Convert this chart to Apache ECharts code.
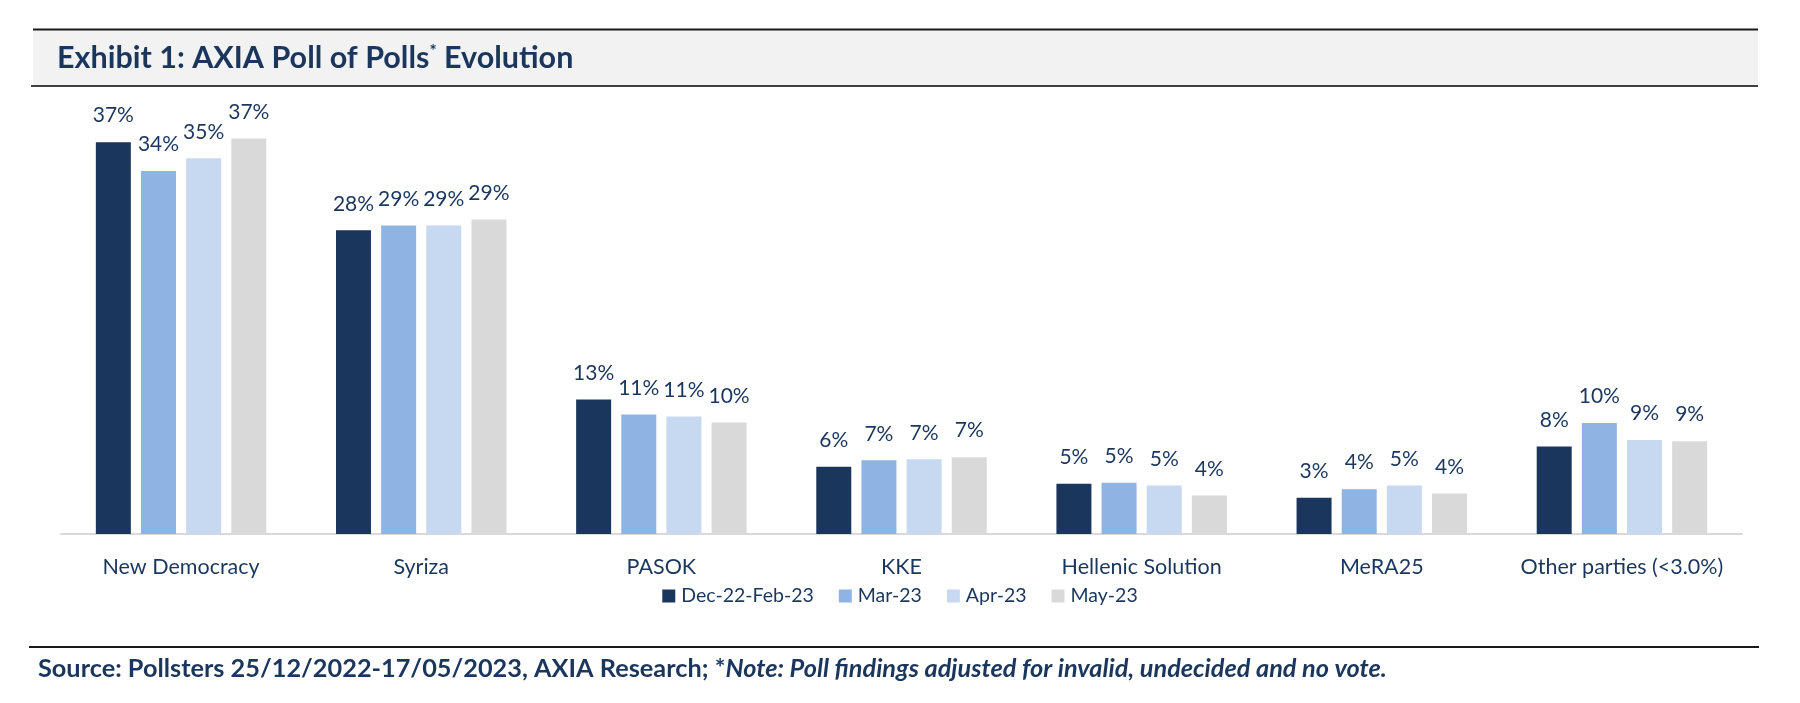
<!DOCTYPE html>
<html>
<head>
<meta charset="utf-8">
<script src="https://cdn.jsdelivr.net/npm/echarts@6/dist/echarts.min.js"></script>
<style>
html,body{margin:0;padding:0;background:#fff;}
#chart{width:1800px;height:703px;}
</style>
</head>
<body>
<div id="chart"></div>
<script>
const categories = ['New Democracy', 'Syriza', 'PASOK', 'KKE', 'Hellenic Solution', 'MeRA25', 'Other parties (<3.0%)'];
const periods = ['Dec-22-Feb-23', 'Mar-23', 'Apr-23', 'May-23'];
const decFeb23 = [36.7, 28.45, 12.6, 6.3, 4.7, 3.4, 8.2];
const mar23 = [34.0, 28.9, 11.2, 6.9, 4.8, 4.2, 10.4];
const apr23 = [35.2, 28.9, 11.0, 7.0, 4.55, 4.55, 8.8];
const may23 = [37.05, 29.45, 10.45, 7.2, 3.6, 3.8, 8.7];
const seriesValues = [decFeb23, mar23, apr23, may23];
const colors = ['#1b365d', '#8eb4e3', '#c6d9f1', '#d9d9d9'];

const navy = '#1b365d';
const font = 'Lato';

const chart = echarts.init(document.getElementById('chart'), null, {renderer: 'canvas'});

const series = periods.map((name, i) => ({
  name: name,
  type: 'bar',
  data: seriesValues[i],
  barWidth: 35,
  barGap: '29%',
  itemStyle: {color: colors[i]},
  label: {
    show: true,
    position: 'top',
    distance: 16,
    color: navy,
    fontFamily: font,
    fontSize: 21,
    formatter: p => Math.round(p.value) + '%'
  }
}));

chart.setOption({
  animation: false,
  textStyle: {fontFamily: font},
  title: [
    {
      text: '{t|Exhibit 1: AXIA Poll of Polls}{s|*}{t| Evolution}',
      left: 52,
      top: 38,
      textStyle: {
        rich: {
          t: {fontFamily: font, fontWeight: 'bold', fontSize: 30.5, color: navy},
          s: {fontFamily: font, fontWeight: 'bold', fontSize: 17, color: navy, verticalAlign: 'top', padding: [0, 0, 14, 0]}
        }
      }
    },
    {
      text: '{b|Source: Pollsters 25/12/2022-17/05/2023, AXIA Research; *}{i|Note: Poll findings adjusted for invalid, undecided and no vote.}',
      left: 33,
      top: 651,
      textStyle: {
        rich: {
          b: {fontFamily: font, fontWeight: 'bold', fontSize: 25.3, color: navy},
          i: {fontFamily: font, fontWeight: 'bold', fontStyle: 'italic', fontSize: 25.3, color: navy}
        }
      }
    }
  ],
  graphic: [
    {type: 'rect', z: -10, shape: {x: 33, y: 29, width: 1725, height: 57}, style: {fill: '#f2f2f2'}},
    {type: 'line', shape: {x1: 33, y1: 29.5, x2: 1758, y2: 29.5}, style: {stroke: '#1a1a1a', lineWidth: 2}},
    {type: 'line', shape: {x1: 31, y1: 86, x2: 1758, y2: 86}, style: {stroke: '#404040', lineWidth: 2}},
    {type: 'line', shape: {x1: 29, y1: 647, x2: 1759, y2: 647}, style: {stroke: '#1a1a1a', lineWidth: 2}}
  ],
  legend: {
    data: periods,
    top: 581,
    left: 'center',
    icon: 'rect',
    itemWidth: 13,
    itemHeight: 13,
    itemGap: 25,
    textStyle: {fontFamily: font, fontSize: 19.5, color: navy, padding: [0, 0, 0, 1]}
  },
  grid: {left: 61, right: 58, top: 107, bottom: 169, containLabel: false},
  xAxis: {
    type: 'category',
    data: categories,
    axisLine: {lineStyle: {color: '#d9d9d9', width: 2}},
    axisTick: {show: false},
    axisLabel: {fontFamily: font, fontSize: 21.5, color: navy, margin: 22, interval: 0}
  },
  yAxis: {
    type: 'value',
    min: 0,
    max: 40,
    show: false,
    splitLine: {show: false}
  },
  series: series
});
</script>
</body>
</html>
